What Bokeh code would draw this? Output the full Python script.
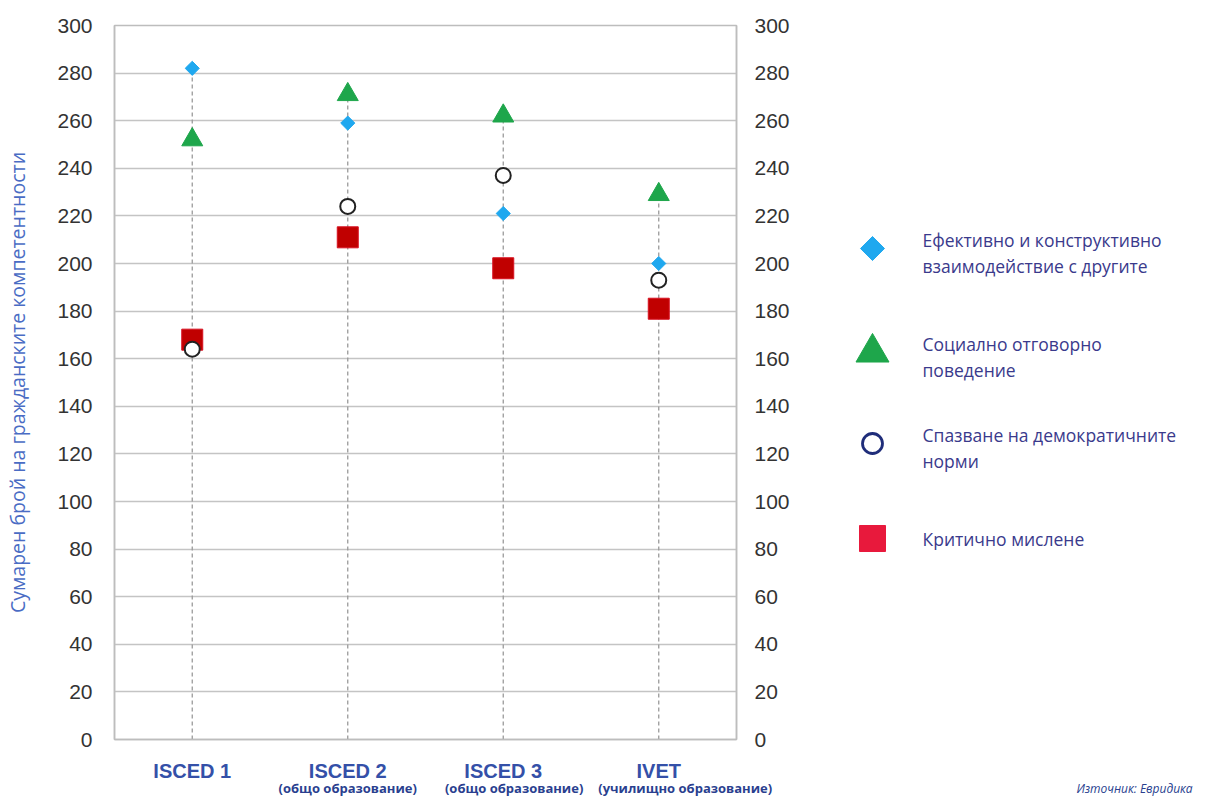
import math
from bokeh.plotting import figure
from bokeh.models import Range1d, LinearAxis, FixedTicker
from bokeh.layouts import row
from bokeh.embed import file_html
from bokeh.resources import INLINE
from bokeh.core.properties import value

# ---------------- data ----------------
categories = ["ISCED 1", "ISCED 2", "ISCED 3", "IVET"]
subtitles = ["", "(общо образование)", "(общо образование)", "(училищно образование)"]
interaction = [282, 259, 221, 200]   # Ефективно и конструктивно взаимодействие с другите
responsible = [252, 271, 262, 229]   # Социално отговорно поведение
democratic = [164, 224, 237, 193]    # Спазване на демократичните норми
critical = [168, 211, 198, 181]      # Критично мислене
series_names = [
    "Ефективно и конструктивно\nвзаимодействие с другите",
    "Социално отговорно\nповедение",
    "Спазване на демократичните\nнорми",
    "Критично мислене",
]
y_ticks = list(range(0, 301, 20))
y_title = "Сумарен брой на гражданските компетентности"
source_text = "Източник: Евридика"

xs = [i + 1 for i in range(len(categories))]
tops = [max(a, b, c, d) for a, b, c, d in zip(interaction, responsible, democratic, critical)]

H = 801
MAIN_W = 812
TOP, BOTTOM = 25, 739   # frame top / bottom in page pixels

# ---------------- main figure ----------------
p = figure(width=MAIN_W, height=H, x_range=Range1d(0.5, 4.5), y_range=Range1d(0, 300),
           output_backend="svg", toolbar_location=None,
           min_border_left=114, min_border_right=76, min_border_top=TOP,
           min_border_bottom=H - BOTTOM,
           x_axis_location=None, y_axis_location=None)
p.outline_line_color = "#bdbdbd"
p.outline_line_width = 1.5
p.background_fill_color = "white"
p.border_fill_color = "white"

tick_font = "Liberation Sans"

def style_y(ax, standoff):
    ax.ticker = FixedTicker(ticks=y_ticks)
    ax.major_tick_line_color = None
    ax.minor_tick_line_color = None
    ax.axis_line_color = "#bdbdbd"
    ax.axis_line_width = 1.5
    ax.major_label_text_font = tick_font
    ax.major_label_text_font_size = "21px"
    ax.major_label_text_color = "#333333"
    ax.major_label_standoff = standoff

yl = LinearAxis()
style_y(yl, 16)
yl.axis_label = y_title
yl.axis_label_text_font = "Open Sans"
yl.axis_label_text_font_style = "normal"
yl.axis_label_text_font_size = "19.5px"
yl.axis_label_text_color = "#4a6cc4"
yl.axis_label_standoff = 23
p.add_layout(yl, "left")

yr = LinearAxis()
style_y(yr, 12)
p.add_layout(yr, "right")

def style_x(ax, ticks, labels, font, size, style, color, standoff, line):
    ax.ticker = FixedTicker(ticks=ticks)
    ax.major_label_overrides = {t: c for t, c in zip(ticks, labels)}
    ax.major_tick_line_color = None
    ax.minor_tick_line_color = None
    ax.axis_line_color = "#bdbdbd" if line else None
    ax.axis_line_width = 1.5
    ax.major_label_text_font = font
    ax.major_label_text_font_style = style
    ax.major_label_text_font_size = size
    ax.major_label_text_color = color
    ax.major_label_standoff = standoff

xb = LinearAxis()
style_x(xb, xs, categories, tick_font, "20px", "bold", "#3450a8", 14, True)
p.add_layout(xb, "below")

# subtitles sit slightly right of their category in the original (wide last label)
sub_shift = [0.0, 0.0, 0.07, 0.17]
sub_ticks = [x + s for x, s in zip(xs, sub_shift)]
xs2 = LinearAxis()
style_x(xs2, sub_ticks, subtitles, "Open Sans", "13px", "bold", "#2a3f8f", -12, False)
p.add_layout(xs2, "below")

p.ygrid.ticker = FixedTicker(ticks=y_ticks)
p.ygrid.grid_line_color = "#c4c4c4"
p.ygrid.grid_line_width = 1.5
p.xgrid.grid_line_color = None

# drop lines
p.segment(x0=xs, y0=[0] * len(xs), x1=xs, y1=tops, line_color="#9a9a9a",
          line_dash="4 3", line_width=1.3)

p.scatter(x=xs, y=responsible, marker="triangle", size=21, fill_color="#1ea64b",
          line_color="#1ea64b")
p.scatter(x=xs, y=interaction, marker="square", angle=math.pi / 4, size=10,
          fill_color="#1fa8ef", line_color="#1fa8ef")
p.scatter(x=xs, y=critical, marker="square", size=21, fill_color="#c00000",
          line_color="#d81020", line_width=1)
p.scatter(x=xs, y=democratic, marker="circle", size=15, fill_color="white",
          line_color="#222222", line_width=2)

# ---------------- legend figure ----------------
LW = 1195 - MAIN_W
lg = figure(width=LW, height=H, x_range=Range1d(0, LW), y_range=Range1d(BOTTOM, TOP),
            output_backend="svg", toolbar_location=None,
            min_border_left=0, min_border_right=0, min_border_top=TOP,
            min_border_bottom=H - BOTTOM,
            x_axis_location=None, y_axis_location=None)
lg.outline_line_color = None
lg.xgrid.grid_line_color = None
lg.ygrid.grid_line_color = None
lg.background_fill_color = "white"
lg.border_fill_color = "white"

item_y = [248, 352, 443, 538]
mx = 60
lg.scatter(x=[mx], y=[item_y[0]], marker="square", angle=math.pi / 4, size=17,
           fill_color="#1fa8ef", line_color="#1fa8ef")
lg.scatter(x=[mx], y=[item_y[1]], marker="triangle", size=33, fill_color="#1ea64b",
           line_color="#1ea64b")
lg.scatter(x=[mx], y=[item_y[2]], marker="circle", size=20, fill_color="white",
           line_color="#1f2d7a", line_width=2.8)
lg.scatter(x=[mx], y=[item_y[3]], marker="square", size=26, fill_color="#e8193c",
           line_color="#e8193c")

tx, ty, tt = [], [], []
for name, yc in zip(series_names, item_y):
    lines = name.split("\n")
    first = yc - 9 if len(lines) > 1 else yc
    for i, ln in enumerate(lines):
        tx.append(110)
        ty.append(first + i * 26)
        tt.append(ln)
lg.text(x=tx, y=ty, text=tt, text_font=value("Open Sans"), text_font_size="17.5px",
        text_color="#3a3a8c", text_baseline="middle", text_align="left")

src_ax = LinearAxis()
src_ax.ticker = FixedTicker(ticks=[322])
src_ax.major_label_overrides = {322: source_text}
src_ax.major_tick_line_color = None
src_ax.minor_tick_line_color = None
src_ax.axis_line_color = None
src_ax.major_label_text_font = "Open Sans"
src_ax.major_label_text_font_style = "italic"
src_ax.major_label_text_font_size = "12px"
src_ax.major_label_text_color = "#2a3f8f"
src_ax.major_label_standoff = 34
lg.add_layout(src_ax, "below")

layout = row(p, lg)
open("out.html", "w").write(file_html(layout, INLINE))
